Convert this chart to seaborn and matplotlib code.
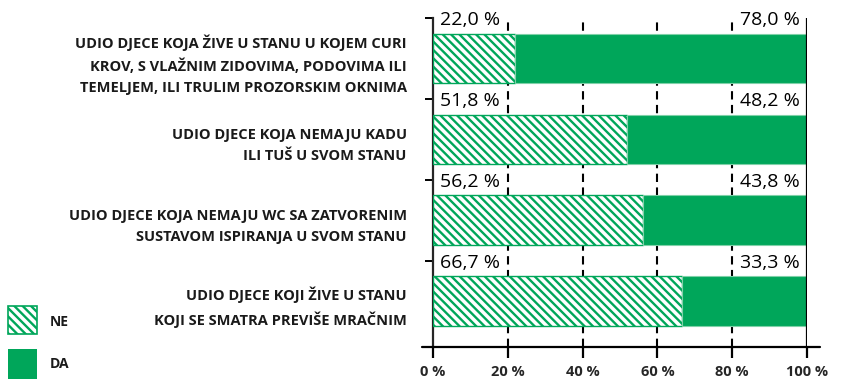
import matplotlib
matplotlib.use("Agg")
import matplotlib.pyplot as plt
import matplotlib.transforms as mtransforms
from matplotlib.patches import Rectangle
import numpy as np
import pandas as pd
import seaborn as sns

# Data
categories = [
    "UDIO DJECE KOJA ŽIVE U STANU U KOJEM CURI\nKROV, S VLAŽNIM ZIDOVIMA, PODOVIMA ILI\nTEMELJEM, ILI TRULIM PROZORSKIM OKNIMA",
    "UDIO DJECE KOJA NEMAJU KADU\nILI TUŠ U SVOM STANU",
    "UDIO DJECE KOJA NEMAJU WC SA ZATVORENIM\nSUSTAVOM ISPIRANJA U SVOM STANU",
    "UDIO DJECE KOJI ŽIVE U STANU\nKOJI SE SMATRA PREVIŠE MRAČNIM",
]
ne_values = [22.0, 51.8, 56.2, 66.7]
da_values = [78.0, 48.2, 43.8, 33.3]
series_names = ["NE", "DA"]
x_ticks = [0, 20, 40, 60, 80, 100]
x_tick_labels = ["0 %", "20 %", "40 %", "60 %", "80 %", "100 %"]

GREEN = "#00A65A"
FONT = "Open Sans"
HATCH = "\\\\\\\\"

sns.set_style("white")
plt.rcParams["font.family"] = [FONT, "DejaVu Sans"]
plt.rcParams["hatch.linewidth"] = 1.7

W, H = 843, 379
fig = plt.figure(figsize=(W / 100, H / 100), dpi=100)
ax = fig.add_axes([433 / W, (H - 347) / H, 374 / W, 329 / H])

df = pd.DataFrame({"kategorija": categories, "NE": ne_values, "DA": da_values})
ypos = np.arange(len(categories))

# NE segment: hatched, white face
sns.barplot(data=df, x="NE", y="kategorija", orient="h", width=0.61,
            color="white", edgecolor=GREEN, linewidth=1.0, hatch=HATCH,
            ax=ax, zorder=3)
# DA segment stacked after NE
ax.barh(ypos, df["DA"], left=df["NE"], height=0.61, color=GREEN,
        edgecolor="#7fd1a8", linewidth=0.8, zorder=3)

ax.set_xlim(0, 100)
ax.set_ylim(3.57, -0.5)

# dashed guides at intermediate ticks
for xv in x_ticks[1:-1]:
    ax.axvline(xv, color="black", lw=1.5, ls=(0, (4, 2.6)), zorder=1)
ax.axvline(100, color="black", lw=1.6, zorder=4)

for s in ["top", "right"]:
    ax.spines[s].set_visible(False)
ax.spines["left"].set_linewidth(1.6)
ax.spines["bottom"].set_visible(False)
# bottom axis line running a little past both ends
ax.plot([-0.03, 1.035], [0, 0], transform=ax.transAxes, color="black",
        lw=1.6, clip_on=False, zorder=5)

ax.set_xlabel("")
ax.set_ylabel("")
ax.set_yticks([-0.5, 0.5, 1.5, 2.5])
ax.set_yticklabels([])
ax.tick_params(axis="y", length=6, width=1.4, color="black", left=True)
ax.set_xticks(x_ticks)
ax.set_xticklabels(x_tick_labels, fontsize=10.5, fontweight="bold",
                   family=[FONT, "DejaVu Sans"])
ax.tick_params(axis="x", length=8, width=1.6, color="black", pad=5,
               bottom=True)

# category labels to the left of the axis
lab_tr = mtransforms.blended_transform_factory(ax.transAxes, ax.transData)
for i, cat in enumerate(categories):
    ax.text(-0.07, i + 0.08, cat, transform=lab_tr, ha="right", va="center",
            multialignment="right", fontsize=10.5, fontweight="bold",
            linespacing=1.6, color="#1a1a1a")

# value labels in the gap above each bar
for i, (ne, da) in enumerate(zip(ne_values, da_values)):
    y = i - 0.5 + 0.03
    ax.text(2.0, y, f"{ne:.1f} %".replace(".", ","), ha="left", va="center",
            fontsize=14, color="black", zorder=6)
    ax.text(98.0, y, f"{da:.1f} %".replace(".", ","), ha="right", va="center",
            fontsize=14, color="black", zorder=6,
            bbox=dict(facecolor="white", edgecolor="none", pad=0.5))

# legend swatches
fig.patches.append(Rectangle((8 / W, (H - 334) / H), 29 / W, 28 / H,
                             transform=fig.transFigure, facecolor="white",
                             edgecolor=GREEN, linewidth=1.2, hatch=HATCH))
fig.patches.append(Rectangle((8 / W, (H - 379) / H), 29 / W, 30 / H,
                             transform=fig.transFigure, facecolor=GREEN,
                             edgecolor="none"))
fig.text(50 / W, (H - 322) / H, series_names[0], ha="left", va="center",
         fontsize=10, fontweight="bold", color="#1a1a1a")
fig.text(50 / W, (H - 364) / H, series_names[1], ha="left", va="center",
         fontsize=10, fontweight="bold", color="#1a1a1a")

fig.savefig("out.png", dpi=100, facecolor="white")
